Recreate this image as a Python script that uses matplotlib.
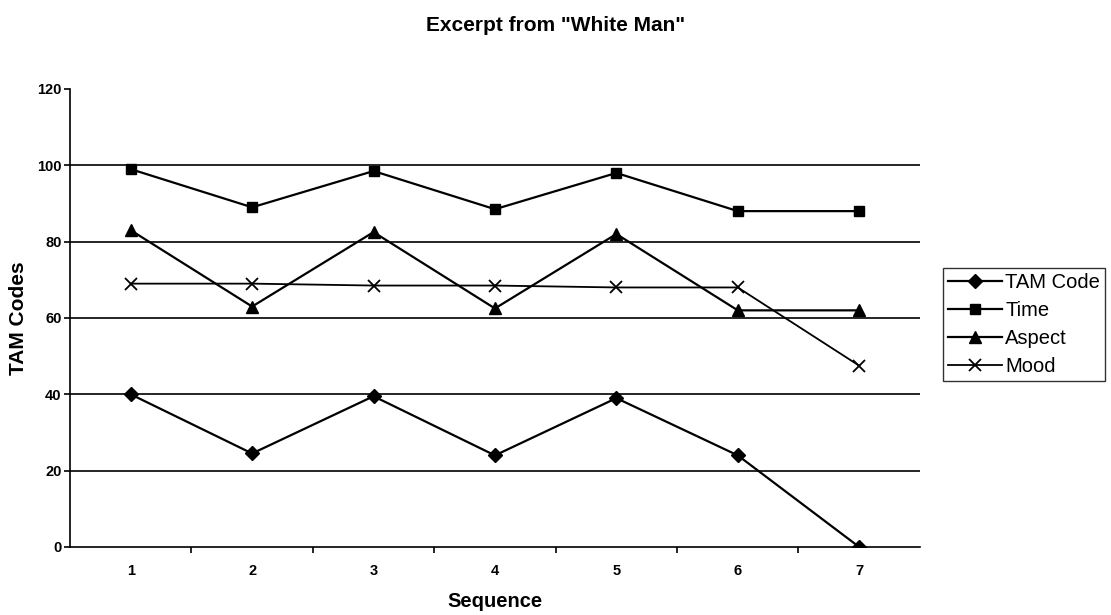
import matplotlib
matplotlib.use('Agg')
import matplotlib.pyplot as plt
import numpy as np

plt.rcParams['font.family'] = ['Liberation Sans', 'DejaVu Sans']

sequence = [1, 2, 3, 4, 5, 6, 7]
tam_code = [40, 24.5, 39.5, 24, 39, 24, 0]
time_vals = [99, 89, 98.5, 88.5, 98, 88, 88]
aspect = [83, 63, 82.5, 62.5, 82, 62, 62]
mood = [69, 69, 68.5, 68.5, 68, 68, 47.5]
y_ticks = [0, 20, 40, 60, 80, 100, 120]

fig = plt.figure(figsize=(11.11, 6.15), dpi=100)
ax = fig.add_axes([0.063, 0.1106, 0.765, 0.7447])

# horizontal gridlines like the Excel chart (none at the top value)
for v in y_ticks[1:-1]:
    ax.axhline(v, color='black', lw=1.2, zorder=1)

ax.plot(sequence, tam_code, '-', marker='D', color='black', lw=1.6, ms=7, label='TAM Code', zorder=3)
ax.plot(sequence, time_vals, '-', marker='s', color='black', lw=1.6, ms=7, label='Time', zorder=3)
ax.plot(sequence, aspect, '-', marker='^', color='black', lw=1.6, ms=8, label='Aspect', zorder=3)
ax.plot(sequence, mood, '-', marker='x', color='black', lw=1.3, ms=9, mew=1.3, label='Mood', zorder=3)

ax.set_xlim(0.5, 7.5)
ax.set_ylim(0, 120)
ax.set_yticks(y_ticks)
ax.set_yticklabels([str(v) for v in y_ticks], fontsize=10.5, fontweight='bold')
ax.set_xticks(sequence)
ax.set_xticklabels([str(s) for s in sequence], fontsize=10.5, fontweight='bold')
ax.set_xticks(np.arange(1.5, 7.5, 1), minor=True)
ax.tick_params(axis='x', which='major', length=0, pad=12)
ax.tick_params(axis='x', which='minor', length=4, direction='out', width=1.2)
ax.tick_params(axis='y', length=4, width=1.2, pad=2)

ax.spines['top'].set_visible(False)
ax.spines['right'].set_visible(False)
ax.spines['left'].set_linewidth(1.2)
ax.spines['bottom'].set_linewidth(1.2)

ax.set_xlabel('Sequence', fontsize=14.5, fontweight='bold')
ax.xaxis.set_label_coords(0.5, -0.098)
ax.set_ylabel('TAM Codes', fontsize=15, fontweight='bold')
ax.yaxis.set_label_coords(-0.049, 0.5)
fig.text(0.5, 0.958, 'Excerpt from "White Man"', ha='center', va='center',
         fontsize=15, fontweight='bold')

leg = fig.legend(loc='upper left', bbox_to_anchor=(0.8488, 0.5642), fontsize=14.5,
                 frameon=True, fancybox=False, edgecolor='black',
                 handlelength=2.7, handletextpad=0.15, borderpad=0.25,
                 labelspacing=0.45, borderaxespad=0)
leg.get_frame().set_linewidth(1.0)

fig.savefig('out.png', dpi=100)
